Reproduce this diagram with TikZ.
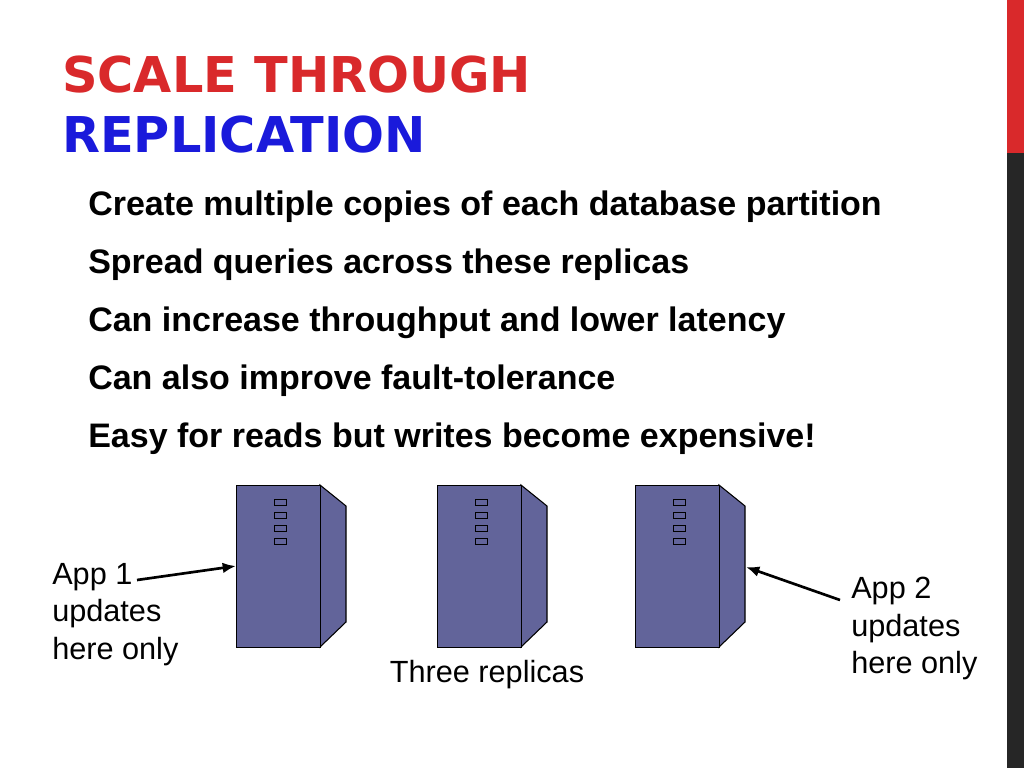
\documentclass[tikz,border=0pt]{standalone}
\usepackage{fontspec}
\setmainfont{Liberation Sans}
\newfontfamily\titlefont{DejaVu Sans}
\begin{document}
\begin{tikzpicture}[x=0.75pt,y=-0.75pt,
  bul/.style={anchor=base west,font=\fontsize{25.5}{28}\selectfont\bfseries,inner sep=0},
  lab/.style={anchor=north west,align=left,font=\fontsize{23}{28}\selectfont,inner sep=0},
  ttl/.style={anchor=base west,inner sep=0,font=\titlefont\fontsize{37}{40}\selectfont\bfseries},
  srv/.style={fill=srvc,draw=black,line width=0.8pt},
  arr/.style={-{Latex[length=10pt,width=8pt]},line width=2pt}]
\usetikzlibrary{arrows.meta}
\definecolor{srvc}{HTML}{62649A}
\definecolor{tred}{HTML}{D9292B}
\definecolor{tblue}{HTML}{1A1ADB}
\path[use as bounding box] (0,0) rectangle (1024,768);
\fill[tred] (1007,0) rectangle (1024,153);
\fill[black!85] (1007,153) rectangle (1024,768);
\node[ttl,text=tred] (t1) at (62,92) {SCALE THROUGH};
\node[ttl,text=tblue] (t2) at (62,152) {REPLICATION};
\node[bul] (b1) at (88,215) {Create multiple copies of each database partition};
\node[bul] (b2) at (88,273) {Spread queries across these replicas};
\node[bul] (b3) at (88,331) {Can increase throughput and lower latency};
\node[bul] (b4) at (88,389) {Can also improve fault-tolerance};
\node[bul] (b5) at (88,447) {Easy for reads but writes become expensive!};
\foreach \n/\x in {s1/236,s2/437,s3/635}{
  \fill[srvc,draw=black,line width=0.8pt] (\x+84,485) -- (\x+110,506) -- (\x+110,622) -- (\x+84,647) -- cycle;
  \node[srv,minimum width=63pt,minimum height=121.5pt,inner sep=0,anchor=north west] (\n) at (\x,485) {};
  \foreach \yy in {499,512,525,538}
    \draw[line width=0.6pt] (\x+38,\yy) rectangle (\x+50,\yy+6);
}
\node[lab] (a1) at (52,563) {App 1\\updates\\here only};
\node[lab] (a2) at (851,577) {App 2\\updates\\here only};
\node[lab,anchor=north] (tr) at (487,660) {Three replicas};
\coordinate (p1) at (137,580);
\coordinate (p2) at (840,600);
\draw[arr] (p1) -- (s1.west |- 0,566);
\draw[arr] (p2) -- (746,567);
\end{tikzpicture}
\end{document}
